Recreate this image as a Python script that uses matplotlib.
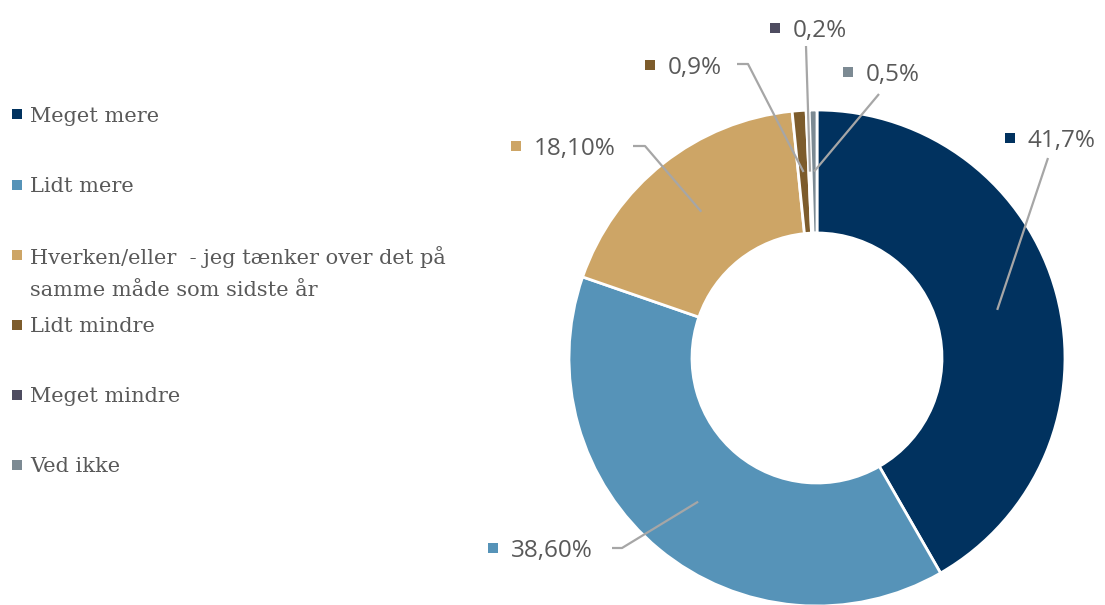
import matplotlib.pyplot as plt
import numpy as np

# Data
categories = ['Meget mere', 'Lidt mere',
              'Hverken/eller  - jeg tænker over det på\nsamme måde som sidste år',
              'Lidt mindre', 'Meget mindre', 'Ved ikke']
values = [41.7, 38.6, 18.1, 0.9, 0.2, 0.5]
value_labels = ['41,7%', '38,60%', '18,10%', '0,9%', '0,2%', '0,5%']
colors = ['#01325f', '#5693b8', '#cda566', '#7d5c2c', '#4e4c60', '#7c8a93']

# Settings (pixel-like data coords, y up)
W, H = 1105, 605
cx, cy = 817, H - 358
R, ring = 248, 123
text_gray = '#595959'
line_gray = '#a6a6a6'

# label box positions (marker x, y) and leader-line knees, in pixels from top
label_pos = [(1010, 138), (493, 548), (516, 146), (650, 65), (775, 28), (848, 72)]
knees = [[(1048, 158)],
         [(612, 548), (622, 548)],
         [(633, 146), (645, 146)],
         [(737, 64), (748, 64)],
         [(806, 46)],
         [(879, 94)]]

fig = plt.figure(figsize=(W / 100, H / 100), dpi=100)
ax = fig.add_axes([0, 0, 1, 1])

wedges, _ = ax.pie(values, colors=colors, startangle=90, counterclock=False,
                   radius=R, center=(cx, cy), frame=True,
                   wedgeprops=dict(width=ring, edgecolor='white', linewidth=2))
ax.set_xlim(0, W)
ax.set_ylim(0, H)
ax.set_aspect('equal')
ax.axis('off')

# data labels with leader lines
r_mid = R - ring / 2
cum = np.cumsum([0] + values[:-1])
for i, v in enumerate(values):
    ang = np.deg2rad(90 - (cum[i] + v / 2) * 3.6)
    sx, sy = cx + r_mid * np.cos(ang), cy + r_mid * np.sin(ang)
    pts = [(x, H - y) for x, y in knees[i]][::-1]
    xs = [sx] + [p[0] for p in pts]
    ys = [sy] + [p[1] for p in pts]
    ax.plot(xs, ys, color=line_gray, lw=1.6, solid_capstyle='butt')
    mx, my = label_pos[i]
    ax.scatter([mx], [H - my], marker='s', s=60, color=colors[i], linewidths=0)
    ax.text(mx + 18, H - my, value_labels[i], fontsize=17.5, family='Open Sans',
            color=text_gray, va='center_baseline', ha='left')

# legend
legend_y = [114, 185, 255, 325, 395, 465]
for i, cat in enumerate(categories):
    y = H - legend_y[i]
    ax.scatter([17], [y], marker='s', s=60, color=colors[i], linewidths=0)
    for j, line in enumerate(cat.split('\n')):
        ax.text(30, y - 33 * j, line, fontsize=15, family='DejaVu Serif',
                color=text_gray, va='center_baseline', ha='left')

fig.savefig('out.png', dpi=100)
